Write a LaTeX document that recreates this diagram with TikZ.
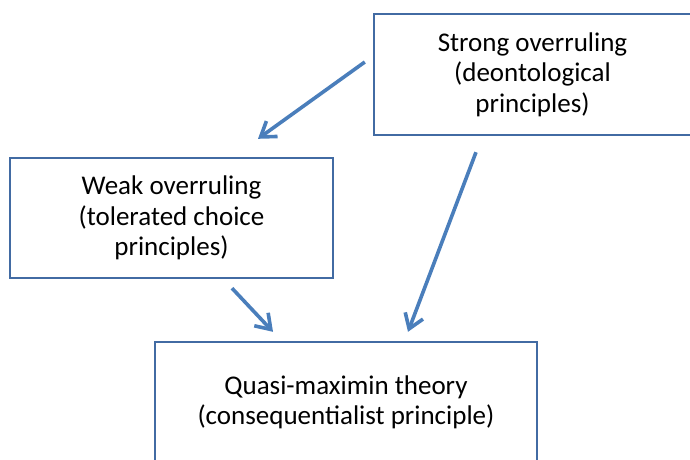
\documentclass[tikz,border=0pt]{standalone}
\usepackage{fontspec}
\setmainfont{Carlito}
\usetikzlibrary{arrows.meta}
\definecolor{boxline}{RGB}{66,107,163}
\definecolor{arrowcol}{RGB}{74,126,187}
\tikzset{
  box/.style={draw=boxline, line width=2.4pt, rectangle, align=center,
    font=\fontsize{27}{30.5}\selectfont, inner sep=0pt},
  arr/.style={draw=arrowcol, line width=3.6pt,
    -{Straight Barb[length=14pt,width=19pt,line width=3.6pt]}}
}
\begin{document}
\begin{tikzpicture}[x=1pt,y=-1pt]
\useasboundingbox (0,0) rectangle (690,459);
\clip (0,0) rectangle (690,459);
\fill[white] (0,0) rectangle (690,459);
\node[box, minimum width=317pt, minimum height=121pt] (strong) at (532.5,74.5)
  {Strong overruling\\(deontological\\principles)};
\node[box, minimum width=323pt, minimum height=120pt] (weak) at (171.5,218)
  {Weak overruling\\(tolerated choice\\principles)};
\node[box, minimum width=382pt, minimum height=121pt] (quasi) at (346,402.5)
  {Quasi-maximin theory\\(consequentialist principle)};
\draw[arr] ([shift={(-8,-12.5)}]strong.west) -- ([shift={(86.5,-18)}]weak.north);
\draw[arr] ([shift={(-56.5,16)}]strong.south) -- ([shift={(62,-9)}]quasi.north);
\draw[arr] ([shift={(60.5,9)}]weak.south) -- ([shift={(-73,-9)}]quasi.north);
\end{tikzpicture}
\end{document}
